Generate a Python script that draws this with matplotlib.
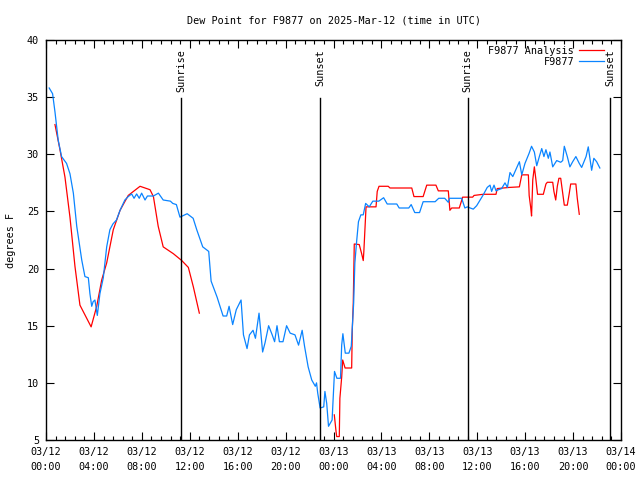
import matplotlib
matplotlib.use("Agg")
import matplotlib.pyplot as plt
import matplotlib.dates as mdates
from matplotlib.ticker import MultipleLocator
import numpy as np

plt.rcParams['font.family'] = ['DejaVu Sans Mono']
plt.rcParams['font.size'] = 7.3

START = np.datetime64("2025-03-12T00:00")

# Observed dew point (hours since 03/12 00:00 UTC, degrees F)
obs_hours = [
    0.27, 0.55, 0.75, 1.02, 1.3, 1.72, 2.0, 2.28, 2.56, 2.98, 3.25, 3.53, 3.67, 3.81, 3.94,
    4.08, 4.28, 4.5, 4.78, 5.06, 5.34, 5.58, 5.88, 6.18, 6.58, 6.87, 7.15, 7.35, 7.57, 7.79,
    7.99, 8.26, 8.46, 8.96, 9.38, 9.78, 10.38, 10.58, 10.88, 11.18, 11.78, 12.28, 12.58, 13.08,
    13.58, 13.78, 14.28, 14.78, 15.08, 15.28, 15.58, 15.88, 16.28, 16.48, 16.78, 16.98, 17.28,
    17.48, 17.78, 18.08, 18.28, 18.58, 18.88, 19.08, 19.28, 19.48, 19.78, 20.08, 20.38, 20.78,
    21.08, 21.38, 21.58, 21.88, 22.18, 22.48, 22.58, 22.68, 22.88, 23.18, 23.28, 23.43, 23.58,
    23.88, 23.98, 24.08, 24.28, 24.58, 24.68, 24.78, 24.98, 25.28, 25.48, 25.68, 25.78, 25.93,
    26.08, 26.28, 26.48, 26.68, 26.98, 27.28, 27.78, 28.18, 28.48, 29.28, 29.48, 30.28, 30.48,
    30.78, 31.18, 31.48, 32.48, 32.78, 33.28, 33.58, 33.68, 34.7, 34.97, 35.17, 35.67, 35.95,
    36.5, 36.83, 37.06, 37.2, 37.4, 37.56, 37.76, 38.04, 38.31, 38.51, 38.73, 38.96, 39.29,
    39.51, 39.71, 39.98, 40.34, 40.54, 40.76, 40.96, 41.18, 41.38, 41.57, 41.74, 41.93, 42.07,
    42.3, 42.63, 42.96, 43.13, 43.26, 43.51, 43.74, 43.96, 44.24, 44.51, 44.71, 45.08, 45.27,
    45.55, 45.74, 45.97, 46.24,
]
obs_dewpoint = [
    35.8, 35.3, 33.7, 31.25, 29.8, 29.2, 28.3, 26.6, 23.7, 20.75, 19.3, 19.2, 17.8, 16.7, 17.1,
    17.25, 15.9, 17.8, 19.2, 21.9, 23.4, 23.9, 24.25, 25.1, 26.0, 26.3, 26.53, 26.15, 26.53, 26.15,
    26.6, 26.0, 26.35, 26.35, 26.6, 26.0, 25.9, 25.7, 25.6, 24.5, 24.8, 24.4, 23.4, 21.9,
    21.5, 18.9, 17.5, 15.85, 15.85, 16.7, 15.1, 16.4, 17.25, 14.2, 13.0, 14.2, 14.6,
    13.9, 16.1, 12.7, 13.5, 15.0, 14.2, 13.6, 15.0, 13.6, 13.6, 15.0, 14.35, 14.2,
    13.3, 14.6, 13.2, 11.4, 10.25, 9.7, 10.0, 9.1, 7.8, 7.9, 9.25, 8.2, 6.2,
    6.75, 8.9, 11.0, 10.4, 10.4, 13.3, 14.3, 12.6, 12.6, 13.2, 17.0, 20.5, 22.4,
    24.1, 24.7, 24.7, 25.7, 25.4, 25.9, 25.9, 26.2, 25.65, 25.65, 25.3, 25.3, 25.6,
    24.9, 24.9, 25.85, 25.85, 26.15, 26.15, 25.8, 26.15, 26.15, 25.3, 25.4, 25.2, 25.5,
    26.45, 27.1, 27.3, 26.75, 27.3, 26.8, 26.9, 27.0, 27.5, 27.1, 28.4, 28.05, 28.8,
    29.35, 28.2, 29.2, 30.1, 30.7, 30.2, 29.0, 29.8, 30.5, 29.8, 30.4, 29.65, 30.2,
    28.9, 29.45, 29.3, 29.45, 30.7, 29.8, 28.9, 29.35, 29.8, 29.2, 28.85, 29.8, 30.65,
    28.6, 29.65, 29.35, 28.8,
]

# Analysis dew point (NaN marks the gap between the two runs)
ana_hours = [
    0.75, 1.17, 1.59, 2.0, 2.42, 2.84, 3.76, 4.23, 4.65, 5.07, 5.62, 6.18, 6.87, 7.85, 8.68,
    8.96, 9.37, 9.79, 10.63, 11.33, 11.88, 12.3, 12.8, 18.0,
    24.07, 24.21, 24.27, 24.48, 24.54, 24.68, 24.77, 24.96, 25.52, 25.57, 25.65, 25.73, 26.15,
    26.35, 26.49, 26.54, 26.71, 27.55, 27.65, 27.8, 28.57, 28.71, 30.53, 30.72, 31.49, 31.78,
    32.55, 32.75, 33.58, 33.72, 33.86, 34.5, 34.78, 35.62, 35.73, 36.5, 37.56, 37.67, 38.67,
    39.51, 39.71, 40.26, 40.34, 40.46, 40.54, 40.63, 40.76, 40.88, 41.04, 41.51, 41.74, 41.85,
    42.3, 42.4, 42.55, 42.68, 42.82, 42.96, 43.13, 43.26, 43.51, 43.68, 43.8, 44.24, 44.35,
    44.52,
]
ana_dewpoint = [
    32.6, 30.4, 28.0, 24.5, 20.2, 16.8, 14.9, 16.7, 19.0, 20.5, 23.4, 25.1, 26.4, 27.2, 26.9,
    26.3, 23.7, 21.9, 21.3, 20.7, 20.1, 18.4, 16.1, np.nan,
    7.2, 5.7, 5.3, 5.3, 8.65, 10.5, 12.0, 11.3, 11.3, 14.6, 17.0, 22.15, 22.1,
    21.3, 20.7, 21.5, 25.4, 25.4, 26.75, 27.2, 27.2, 27.05, 27.05, 26.3, 26.3, 27.3,
    27.3, 26.8, 26.8, 25.1, 25.3, 25.3, 26.25, 26.25, 26.4, 26.5, 26.5, 27.0, 27.1,
    27.15, 28.2, 28.2, 26.4, 25.3, 24.6, 27.75, 28.9, 27.9, 26.5, 26.5, 27.4, 27.55,
    27.55, 26.75, 26.0, 27.2, 27.9, 27.9, 26.6, 25.55, 25.55, 26.6, 27.4, 27.4, 26.15,
    24.75,
]

# Sun events (hours since 03/12 00:00 UTC)
sun_hours = [11.27, 22.87, 35.22, 47.08]
sun_labels = ["Sunrise", "Sunset", "Sunrise", "Sunset"]


def to_times(hours):
    minutes = np.round(np.array(hours) * 60).astype(int)
    return START + minutes.astype("timedelta64[m]")


fig = plt.figure(figsize=(6.4, 4.8), dpi=100)
ax = fig.add_axes([46 / 640, 40 / 480, 575 / 640, 400 / 480])

ax.plot(to_times(ana_hours), ana_dewpoint, color="#ff0000", lw=0.9, label="F9877 Analysis")
ax.plot(to_times(obs_hours), obs_dewpoint, color="#0a84ff", lw=0.9, label="F9877")

for h, name in zip(sun_hours, sun_labels):
    t = to_times([h])[0]
    ax.axvline(t, ymin=0, ymax=0.855, color="black", lw=1.0)
    ax.text(t, 39.2, name, rotation=90, ha="center", va="top", fontsize=7.3)

ax.set_xlim(START, START + np.timedelta64(48, "h"))
ax.set_ylim(5, 40)
ax.xaxis.set_major_locator(mdates.HourLocator(byhour=[0, 4, 8, 12, 16, 20]))
ax.xaxis.set_minor_locator(MultipleLocator(0.8 / 24))
ax.xaxis.set_major_formatter(mdates.DateFormatter("%m/%d\n%H:%M"))
ax.yaxis.set_major_locator(MultipleLocator(5))

ax.tick_params(which="both", direction="in", top=True, right=True, width=0.8)
ax.tick_params(which="major", length=6, pad=5)
ax.tick_params(which="minor", length=3)
for label in ax.get_xticklabels():
    label.set_linespacing(1.6)
for spine in ax.spines.values():
    spine.set_linewidth(1.0)

ax.set_ylabel("degrees F", labelpad=8)
fig.text(0.522, 0.958, "Dew Point for F9877 on 2025-Mar-12 (time in UTC)",
         ha="center", va="center", fontsize=7.3)

ax.legend(loc="upper right", frameon=False, markerfirst=False, handlelength=2.5,
          handletextpad=0.5, labelspacing=0.1, borderaxespad=0.0, borderpad=0.55,
          alignment="right", bbox_to_anchor=(0.981, 1.0))

fig.savefig("out.png", dpi=100)
